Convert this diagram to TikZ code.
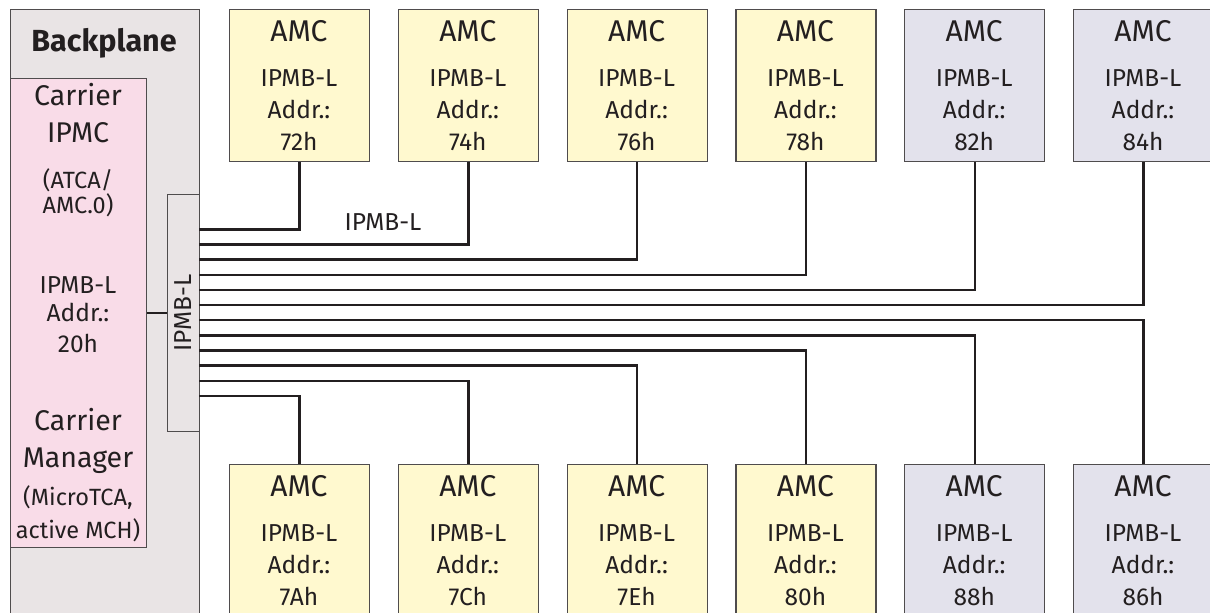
\documentclass[tikz,border=0pt]{standalone}
\usepackage{fontspec}
\setmainfont{Fira Sans}
\definecolor{bpgray}{HTML}{E9E4E5}
\definecolor{carpink}{HTML}{F9DCE8}
\definecolor{amcyel}{HTML}{FFF9CF}
\definecolor{amcgray}{HTML}{E3E2EC}
\definecolor{ink}{HTML}{231F20}
\newcommand{\amcnode}[5]{%
  \node[amcbox, fill=#4] (#1) at (#2,#3) {};
  \node[txtbig] (#1t1) at (#2+70,#3+32.6) {AMC};
  \node[txt] (#1t2) at (#2+70,#3+76.7) {IPMB-L};
  \node[txt] (#1t3) at (#2+70,#3+109) {Addr.:};
  \node[txt] (#1t4) at (#2+70,#3+141) {#5};
}
\begin{document}
\begin{tikzpicture}[x=1pt,y=-1pt,
  boxline/.style={draw=ink!80, line width=1.1pt},
  amcbox/.style={boxline, rectangle, minimum width=140pt, minimum height=151.4pt, inner sep=0pt, anchor=north west},
  bus/.style={draw=ink, line width=2.4pt},
  txt/.style={inner sep=0pt, anchor=base, font=\fontsize{24.5}{28}\selectfont, text=ink},
  txtbig/.style={txt, font=\fontsize{30}{34}\selectfont},
  txtmid/.style={txt, font=\fontsize{28.5}{32}\selectfont},
  txtsmall/.style={txt, font=\fontsize{23.5}{26}\selectfont},
  txtbold/.style={txt, font=\fontsize{30.5}{36}\selectfont\bfseries}
]
\useasboundingbox (0,0) rectangle (1210,613);
\clip (0,0) rectangle (1210,613);
% backplane
\node[boxline, fill=bpgray, rectangle, inner sep=0pt, anchor=north west, minimum width=189pt, minimum height=640pt] (bp) at (10,9.3) {};
\node[txtbold] (bptitle) at (104,51.7) {Backplane};
% carrier box
\node[boxline, fill=carpink, rectangle, inner sep=0pt, anchor=north west, minimum width=136pt, minimum height=469pt] (car) at (10,78) {};
\node[txtmid] (c1) at (78,105) {Carrier};
\node[txtmid] (c2) at (78,142.7) {IPMC};
\node[txtsmall] (c3) at (78,188.3) {(ATCA/};
\node[txtsmall] (c4) at (78,213) {AMC.0)};
\node[txt] (c5) at (78,293.3) {IPMB-L};
\node[txt] (c6) at (78,321.7) {Addr.:};
\node[txt] (c7) at (78,352.3) {20h};
\node[txtmid] (c8) at (78,430) {Carrier};
\node[txtmid] (c9) at (78,467.5) {Manager};
\node[txtsmall] (c10) at (78,505) {(MicroTCA,};
\node[txtsmall] (c11) at (78,538) {active MCH)};
% IPMB-L bar
\node[boxline, fill=bpgray, rectangle, inner sep=0pt, anchor=north west, minimum width=32pt, minimum height=236.7pt] (bar) at (167,194) {};
\node[txt, anchor=center, rotate=90] (barlbl) at (bar.center) {IPMB-L};
\draw[draw=ink, line width=1.6pt] (car.east |- bar.west) -- (bar.west);
% AMC boxes
\amcnode{a1}{229}{9.3}{amcyel}{72h}
\amcnode{a2}{397.8}{9.3}{amcyel}{74h}
\amcnode{a3}{566.6}{9.3}{amcyel}{76h}
\amcnode{a4}{735.4}{9.3}{amcyel}{78h}
\amcnode{a5}{904.2}{9.3}{amcgray}{82h}
\amcnode{a6}{1073}{9.3}{amcgray}{84h}
\amcnode{b1}{229}{464.3}{amcyel}{7Ah}
\amcnode{b2}{397.8}{464.3}{amcyel}{7Ch}
\amcnode{b3}{566.6}{464.3}{amcyel}{7Eh}
\amcnode{b4}{735.4}{464.3}{amcyel}{80h}
\amcnode{b5}{904.2}{464.3}{amcgray}{88h}
\amcnode{b6}{1073}{464.3}{amcgray}{86h}
% bus lines
\foreach \k/\t in {0/a1,1/a2,2/a3,3/a4,4/a5,5/a6}{
  \coordinate (p\k) at (199,229.3+15.15*\k);
  \draw[bus] (p\k) -| (\t.south);
}
\foreach \k/\t in {6/b6,7/b5,8/b4,9/b3,10/b2,11/b1}{
  \coordinate (p\k) at (199,229.3+15.15*\k);
  \draw[bus] (p\k) -| (\t.north);
}
\node[txt] (buslbl) at (383,230.7) {IPMB-L};
\end{tikzpicture}
\end{document}
